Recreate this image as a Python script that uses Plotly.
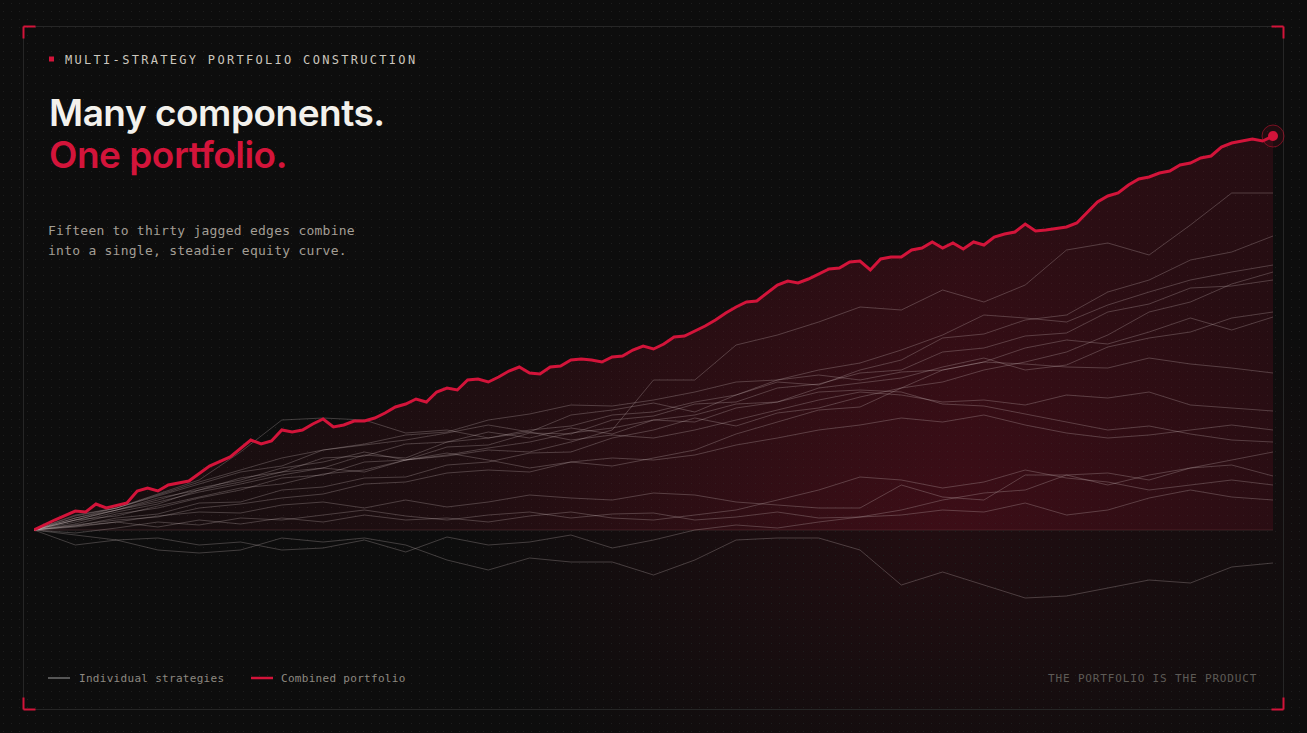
import base64
import plotly.graph_objects as go

# ---------------- data ----------------
# combined portfolio: period index and cumulative value
red_x = [0, 2, 4, 5, 6, 7, 9, 10, 11, 12, 13, 15, 17, 19,
         21, 22, 23, 24, 25, 26, 27, 28, 29, 30, 31, 32, 33, 34, 35, 36, 37, 38, 39, 40,
         41, 42, 43, 44, 45, 46, 47, 48, 49, 50, 51, 52, 53, 54, 55, 56, 57, 58, 59, 60,
         61, 62, 63, 64, 65, 66, 67, 68, 69, 70, 71, 72, 73, 74, 75, 76, 77, 78, 79, 80,
         81, 82, 83, 84, 85, 86, 87, 88, 89, 90, 91, 92, 93, 94, 95, 96, 97, 98,
         100, 101, 102, 103, 104, 105, 106, 107, 108, 109, 110, 111, 112, 113, 114, 115,
         116, 117, 118, 119, 120]
red_y = [0, 10, 19, 18, 26, 22, 27, 39, 42, 39, 45, 49, 64, 73,
         90, 86, 89, 100, 98, 100, 106, 111, 103, 105, 109, 109, 112, 117, 123, 126, 131, 128, 138, 142,
         140, 150, 151, 148, 153, 159, 163, 157, 156, 163, 164, 170, 171, 170, 168, 173, 174, 180, 184, 181,
         186, 193, 194, 199, 204, 210, 217, 223, 228, 229, 237, 245, 249, 247, 251, 256, 261, 262, 268, 269,
         260, 271, 273, 273, 280, 282, 288, 282, 287, 281, 288, 285, 293, 296, 298, 306, 299, 300,
         303, 307, 318, 328, 334, 337, 345, 351, 353, 357, 359, 365, 367, 372, 374, 383,
         387, 389, 391, 389, 394]

# individual strategies, sampled every 4 periods
strat_x = [0, 4, 8, 12, 16, 20, 24, 28, 32, 36, 40, 44, 48, 52, 56, 60,
           64, 68, 72, 76, 80, 84, 88, 92, 96, 100, 104, 108, 112, 116, 120]
strat_a = [0, 12, 20, 28, 38, 46, 55, 62, 58, 70, 74, 80, 78, 88, 100, 150, 150, 185, 195, 208, 223, 220, 240, 228, 245, 280, 287, 275, 305, 337, 337]
strat_b = [0, 8, 18, 26, 40, 48, 58, 62, 75, 72, 88, 92, 100, 104, 115, 118, 128, 135, 148, 145, 160, 170, 192, 196, 210, 215, 238, 250, 270, 278, 294]
strat_c = [0, 15, 22, 35, 48, 60, 72, 80, 85, 90, 97, 105, 98, 115, 120, 127, 118, 135, 150, 160, 167, 180, 195, 215, 212, 208, 225, 238, 250, 258, 265]
strat_d = [0, 6, 16, 22, 32, 40, 52, 55, 68, 70, 83, 85, 97, 96, 110, 114, 126, 128, 142, 146, 157, 160, 178, 182, 194, 197, 218, 226, 242, 244, 250]
strat_e = [0, 10, 14, 24, 33, 42, 46, 56, 60, 70, 75, 82, 88, 97, 102, 110, 108, 122, 128, 142, 147, 152, 163, 172, 160, 165, 183, 192, 198, 212, 218]
strat_f = [0, 4, 12, 16, 27, 28, 40, 43, 52, 53, 65, 68, 77, 78, 92, 100, 112, 104, 117, 122, 133, 142, 160, 168, 182, 190, 186, 198, 212, 200, 213]
strat_g = [0, 14, 22, 34, 46, 58, 64, 80, 86, 95, 98, 110, 116, 125, 124, 130, 138, 148, 150, 155, 150, 158, 160, 168, 166, 163, 162, 172, 166, 162, 157]
strat_h = [0, 12, 22, 36, 50, 78, 110, 112, 110, 97, 100, 92, 98, 90, 95, 92, 100, 110, 120, 130, 138, 135, 128, 130, 125, 135, 132, 138, 125, 122, 119]
strat_i = [0, 10, 20, 32, 40, 52, 58, 72, 74, 86, 88, 98, 92, 102, 96, 110, 115, 126, 128, 138, 140, 138, 126, 124, 116, 108, 100, 104, 96, 90, 88]
strat_j = [0, -5, -10, -8, -15, -12, -20, -18, -10, -22, -7, -15, -12, -5, -18, -10, 0, 5, 2, 8, 13, 20, 30, 37, 40, 55, 57, 50, 62, 70, 78]
strat_k = [0, 3, 8, 14, 18, 17, 25, 28, 22, 30, 23, 28, 35, 32, 30, 37, 35, 28, 25, 22, 22, 45, 33, 30, 55, 55, 45, 55, 62, 65, 54]
strat_l = [0, -3, 2, 8, 5, 12, 10, 15, 20, 14, 10, 15, 18, 12, 16, 17, 10, 13, 18, 12, 13, 15, 20, 18, 27, 15, 20, 32, 40, 33, 30]
strat_m = [0, -15, -10, -20, -23, -20, -8, -12, -8, -15, -30, -40, -28, -32, -32, -45, -30, -10, -8, -8, -20, -55, -42, -55, -68, -66, -58, -50, -53, -37, -33]
strat_o = [0, 5, 10, 13, 22, 26, 32, 36, 46, 48, 57, 60, 58, 68, 64, 72, 80, 96, 108, 120, 123, 142, 148, 160, 168, 178, 195, 218, 228, 246, 258]
strat_q = [0, 4, 8, 3, 10, 6, 12, 8, 15, 10, 12, 8, 14, 18, 12, 10, 15, 20, 30, 40, 53, 50, 42, 48, 60, 52, 48, 40, 45, 50, 45]
strat_r = [0, 10, 20, 30, 42, 50, 62, 68, 78, 70, 77, 70, 62, 68, 72, 70, 75, 85, 92, 100, 105, 112, 108, 115, 105, 97, 92, 95, 100, 105, 100]

strategies = [strat_a, strat_b, strat_c, strat_d, strat_e, strat_f, strat_g, strat_h,
              strat_i, strat_j, strat_k, strat_l, strat_m, strat_o, strat_q, strat_r]

title_1 = "Many components."
title_2 = "One portfolio."
eyebrow = "MULTI-STRATEGY PORTFOLIO CONSTRUCTION"
sub_1 = "Fifteen to thirty jagged edges combine"
sub_2 = "into a single, steadier equity curve."
legend_1 = "Individual strategies"
legend_2 = "Combined portfolio"
footer = "THE PORTFOLIO IS THE PRODUCT"

# ---------------- layout geometry ----------------
W, H = 1307, 733
L, R, T, B = 34, 1273, 110, 680
ZERO_PX = 530
PW, PH = R - L, B - T
RED = "#d3143a"
MONO = "DejaVu Sans Mono, Liberation Mono, monospace"


def px(x):
    return (x - L) / PW


def py(y):
    return (B - y) / PH


bg_svg = f'''<svg xmlns="http://www.w3.org/2000/svg" width="{W}" height="{H}" viewBox="0 0 {W} {H}">
<defs>
<pattern id="d" width="8" height="8" patternUnits="userSpaceOnUse"><rect x="3" y="3" width="1" height="1" fill="#1e1e1e"/></pattern>
<radialGradient id="g" cx="930" cy="540" r="480" gradientUnits="userSpaceOnUse" gradientTransform="translate(930 540) scale(1 0.65) translate(-930 -540)">
<stop offset="0" stop-color="#6a0f20" stop-opacity="0.22"/>
<stop offset="1" stop-color="#6a0f20" stop-opacity="0"/>
</radialGradient>
</defs>
<rect width="{W}" height="{H}" fill="#0d0d0d"/>
<rect width="{W}" height="{H}" fill="url(#g)"/>
<rect width="{W}" height="{H}" fill="url(#d)"/>
</svg>'''
bg_src = "data:image/svg+xml;base64," + base64.b64encode(bg_svg.encode()).decode()

fig = go.Figure()

# fill under the combined curve
fig.add_trace(go.Scatter(
    x=red_x, y=red_y, mode="lines", line=dict(width=0, color="rgba(0,0,0,0)"),
    fill="tozeroy",
    fillgradient=dict(type="horizontal", colorscale=[
        [0.0, "rgba(90,20,30,0.10)"],
        [0.75, "rgba(125,14,36,0.30)"],
        [1.0, "rgba(115,14,34,0.24)"]]),
    hoverinfo="skip", showlegend=False))

for s in strategies:
    fig.add_trace(go.Scatter(
        x=strat_x, y=s, mode="lines",
        line=dict(width=1, color="rgba(215,200,200,0.26)"),
        hoverinfo="skip", showlegend=False))

fig.add_trace(go.Scatter(
    x=red_x, y=red_y, mode="lines", line=dict(width=3, color=RED),
    hoverinfo="skip", showlegend=False))

fig.add_trace(go.Scatter(
    x=[red_x[-1]], y=[red_y[-1]], mode="markers",
    marker=dict(size=22, color="rgba(200,20,50,0.10)",
                line=dict(width=1, color="rgba(200,20,50,0.55)")),
    hoverinfo="skip", showlegend=False, cliponaxis=False))
fig.add_trace(go.Scatter(
    x=[red_x[-1]], y=[red_y[-1]], mode="markers",
    marker=dict(size=10, color=RED, line=dict(width=0)),
    hoverinfo="skip", showlegend=False, cliponaxis=False))

shapes = []
# baseline
shapes.append(dict(type="line", xref="x", yref="y", x0=0, x1=120, y0=0, y1=0,
                   line=dict(color="rgba(90,55,60,0.55)", width=1), layer="below"))
# frame
shapes.append(dict(type="rect", xref="paper", yref="paper",
                   x0=px(23.5), x1=px(1283.5), y0=py(709.5), y1=py(26.5),
                   line=dict(color="#262626", width=1), layer="below"))
# corner brackets
c = 12
for (cx, cy, dx, dy) in [(23.5, 26.5, 1, 1), (1283.5, 26.5, -1, 1),
                         (23.5, 709.5, 1, -1), (1283.5, 709.5, -1, -1)]:
    shapes.append(dict(type="line", xref="paper", yref="paper",
                       x0=px(cx), x1=px(cx + dx * c), y0=py(cy), y1=py(cy),
                       line=dict(color=RED, width=2)))
    shapes.append(dict(type="line", xref="paper", yref="paper",
                       x0=px(cx), x1=px(cx), y0=py(cy), y1=py(cy + dy * c),
                       line=dict(color=RED, width=2)))
# eyebrow square
shapes.append(dict(type="rect", xref="paper", yref="paper",
                   x0=px(49), x1=px(54), y0=py(61.5), y1=py(56.5),
                   fillcolor=RED, line=dict(width=0)))
# legend swatches
shapes.append(dict(type="line", xref="paper", yref="paper",
                   x0=px(48), x1=px(70), y0=py(678), y1=py(678),
                   line=dict(color="#565656", width=2)))
shapes.append(dict(type="line", xref="paper", yref="paper",
                   x0=px(251), x1=px(273), y0=py(678), y1=py(678),
                   line=dict(color=RED, width=2.5)))


def ann(text, x, y, size, color, family=MONO, xanchor="left", weight=None, spacing=None):
    t = text
    if spacing is not None:
        t = f'<span style="letter-spacing:{spacing}px">{text}</span>'
    f = dict(size=size, color=color, family=family)
    if weight:
        f["weight"] = weight
    return dict(text=t, x=px(x), y=py(y), xref="paper", yref="paper",
                xanchor=xanchor, yanchor="middle", showarrow=False, font=f)


annotations = [
    ann(eyebrow, 62.5, 59.5, 12, "#cbc6be", spacing=2.3),
    ann(title_1, 46.5, 112, 37, "#f3f1ec", family="Inter, Noto Sans, sans-serif", weight=600, spacing=-0.5),
    ann(title_2, 46.5, 154, 37, RED, family="Inter, Noto Sans, sans-serif", weight=600, spacing=-0.5),
    ann(sub_1, 46, 230.5, 13, "#a39e95", spacing=0.25),
    ann(sub_2, 46, 250.5, 13, "#a39e95", spacing=0.25),
    ann(legend_1, 77, 678, 11, "#8e8981", spacing=0.3),
    ann(legend_2, 279, 678, 11, "#8e8981", spacing=0.3),
    ann(footer, 1258.5, 678, 11, "#5e5b56", xanchor="right", spacing=0.85),
]

fig.update_layout(
    width=W, height=H,
    margin=dict(l=L, r=W - R, t=T, b=H - B, pad=0),
    paper_bgcolor="#0d0d0d", plot_bgcolor="rgba(0,0,0,0)",
    xaxis=dict(range=[0, 120], visible=False, fixedrange=True),
    yaxis=dict(range=[-(B - ZERO_PX), ZERO_PX - T], visible=False, fixedrange=True),
    showlegend=False,
    shapes=shapes, annotations=annotations,
    images=[dict(source=bg_src, xref="paper", yref="paper", x=px(0), y=py(0),
                 sizex=W / PW, sizey=H / PH, xanchor="left", yanchor="top",
                 sizing="stretch", layer="below")],
)

fig.write_html("out.html", config=dict(displayModeBar=False, staticPlot=True))
